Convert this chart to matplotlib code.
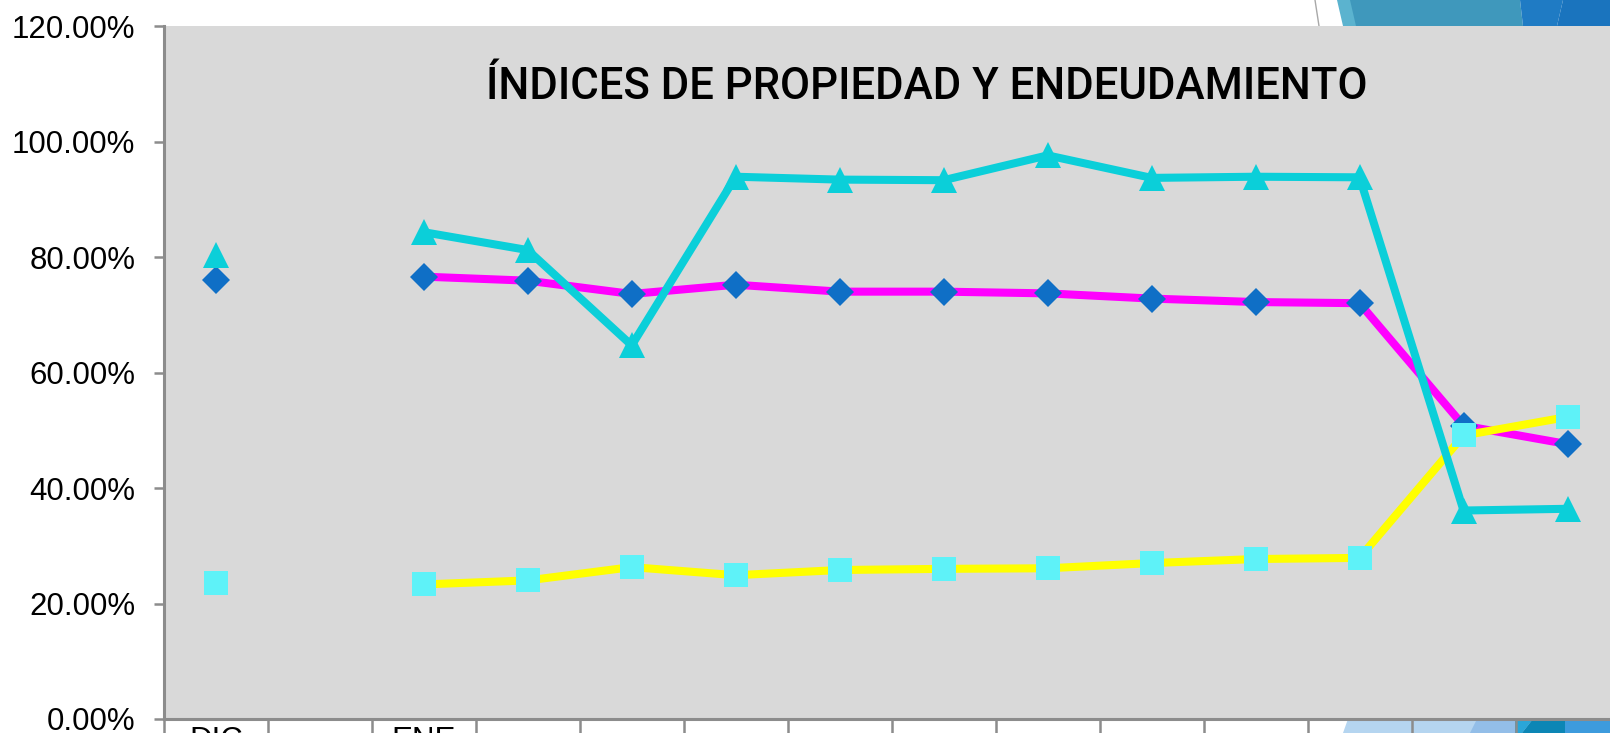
import matplotlib.pyplot as plt
from matplotlib.patches import Polygon
from matplotlib.lines import Line2D
from matplotlib.ticker import FuncFormatter
import numpy as np

# data (percent), index 1 is an empty month column
categories = ['DIC', '', 'ENE', '', '', '', '', '', '', '', '', '', '', '']
propiedad = [76.1, np.nan, 76.6, 75.9, 73.6, 75.2, 74.0, 74.0, 73.7, 72.8, 72.2, 72.0, 50.8, 47.6]
endeudamiento = [23.6, np.nan, 23.3, 24.0, 26.3, 24.9, 25.8, 26.0, 26.1, 27.0, 27.7, 27.9, 49.1, 52.3]
apalancamiento = [80.4, np.nan, 84.3, 81.2, 64.7, 93.9, 93.4, 93.3, 97.6, 93.7, 93.9, 93.8, 36.1, 36.4]
title = 'ÍNDICES DE PROPIEDAD Y ENDEUDAMIENTO'

W, H = 1610, 733
fig = plt.figure(figsize=(W / 100, H / 100), dpi=100)
fig.patch.set_facecolor('white')


def fx(x, y):
    return (x / W, 1 - y / H)


# slide decoration behind the chart (pixel coords from top-left)
deco = [
    ([(1337, 0), (1352, 0), (1358, 26), (1343, 26)], '#5BB3CF'),
    ([(1350, 0), (1520, 0), (1523, 26), (1356, 26)], '#3F98BC'),
    ([(1520, 0), (1563, 0), (1557, 26), (1523, 26)], '#1F7BC4'),
    ([(1563, 0), (1610, 0), (1610, 26), (1557, 26)], '#1A74BE'),
    ([(1348, 719), (1610, 719), (1610, 733), (1343, 733)], '#B5D5F0'),
    ([(1477, 719), (1515, 719), (1515, 733), (1470, 733)], '#93BEE8'),
    ([(1515, 719), (1533, 719), (1522, 733), (1515, 733)], '#2AA6D8'),
    ([(1533, 719), (1565, 719), (1565, 733), (1522, 733)], '#0C86B5'),
    ([(1565, 719), (1610, 719), (1610, 733), (1565, 733)], '#3D9BDD'),
]
for pts, col in deco:
    fig.add_artist(Polygon([fx(*p) for p in pts], closed=True, facecolor=col,
                           edgecolor='none', transform=fig.transFigure, zorder=-1))
fig.add_artist(Line2D([1315 / W, 1319 / W], [1, 1 - 26 / H], color='#A8A8A8', lw=1,
                      transform=fig.transFigure, zorder=-1))

# axes extends past the right edge like the cropped screenshot
left, right, bottom, top = 163.8, 1619.5, 719, 26
ax = fig.add_axes([left / W, 1 - bottom / H, (right - left) / W, (bottom - top) / H])
ax.set_facecolor('#D9D9D9')

x = np.arange(len(categories))
ax.plot(x, propiedad, color='#FF00FF', lw=5.8, marker='D', ms=14, mfc='#0F6FC6',
        mec='#0F6FC6', mew=0, zorder=3)
ax.plot(x, endeudamiento, color='#FFFF00', lw=5.8, marker='s', ms=17, mfc='#5EF2F8',
        mec='#5EF2F8', mew=0, zorder=4)
ax.plot(x, apalancamiento, color='#0BCFD9', lw=5.8, marker='^', ms=19, mfc='#0BCFD9',
        mec='#0BCFD9', mew=0, zorder=5)

ax.set_xlim(-0.5, len(categories) - 0.5)
ax.set_ylim(0, 120)
ax.set_yticks(np.arange(0, 121, 20))
ax.yaxis.set_major_formatter(FuncFormatter(lambda v, p: f'{v:.2f}%'))

ax.set_xticks(np.arange(-0.5, len(categories), 1))
ax.set_xticklabels([])
ax.set_xticks(x, minor=True)
ax.set_xticklabels(categories, minor=True, fontsize=22.5, family='Liberation Sans')

for s in ['top', 'right']:
    ax.spines[s].set_visible(False)
for s in ['left', 'bottom']:
    ax.spines[s].set_color('#8C8C8C')
    ax.spines[s].set_linewidth(2.2)

ax.tick_params(axis='y', length=7.5, width=1.8, color='#8C8C8C', pad=13,
               labelsize=22.5)
for lab in ax.get_yticklabels():
    lab.set_family('Liberation Sans')
ax.tick_params(axis='x', which='major', length=30, width=1.8, color='#8C8C8C')
ax.tick_params(axis='x', which='minor', length=0, pad=5)

fig.text(927 / W, 1 - 87 / H, title, ha='center', va='center', fontsize=31.5,
         family='Roboto', fontweight='medium', color='black')

fig.savefig('out.png', dpi=100)
